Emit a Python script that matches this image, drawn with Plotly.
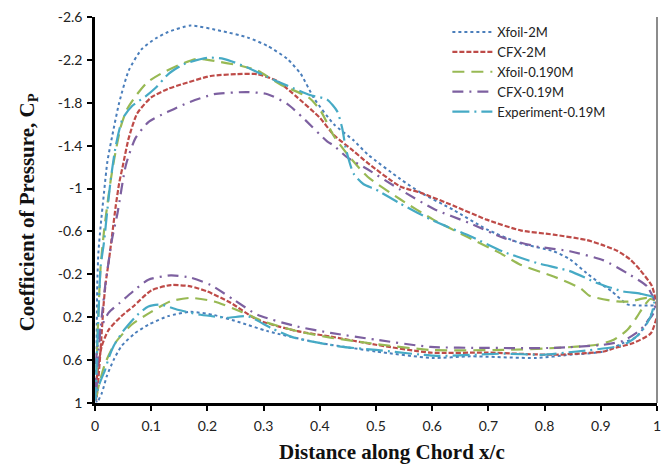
import plotly.graph_objects as go

# ---------------- data ----------------
series_names = ["Xfoil-2M", "CFX-2M", "Xfoil-0.190M", "CFX-0.19M", "Experiment-0.19M"]

# Xfoil-2M
xf2_x_up = [0.003, 0.003, 0.004, 0.006, 0.010, 0.016, 0.022, 0.031, 0.043, 0.060, 0.083, 0.108, 0.130, 0.170,
            0.224, 0.271, 0.307, 0.342, 0.366, 0.390, 0.425, 0.460, 0.485, 0.543, 0.580, 0.638, 0.697, 0.757,
            0.816, 0.845, 0.875, 0.900, 0.920, 0.947, 0.970, 0.994]
xf2_cp_up = [0.95, 0.40, -0.10, -0.40, -0.65, -0.96, -1.25, -1.50, -1.80, -2.10, -2.30, -2.40, -2.46, -2.52,
             -2.47, -2.41, -2.33, -2.21, -2.07, -1.84, -1.60, -1.45, -1.32, -1.09, -0.96, -0.80, -0.62, -0.49,
             -0.415, -0.34, -0.21, -0.11, -0.04, 0.08, 0.09, 0.09]
xf2_x_lo = [0.003, 0.012, 0.021, 0.033, 0.047, 0.071, 0.095, 0.130, 0.170, 0.212, 0.259, 0.307, 0.390, 0.500,
            0.600, 0.668, 0.786, 0.845, 0.905, 0.940, 0.964, 0.980, 0.994, 0.998]
xf2_cp_lo = [1.00, 0.91, 0.75, 0.60, 0.47, 0.35, 0.27, 0.19, 0.15, 0.18, 0.25, 0.33, 0.43, 0.52,
             0.58, 0.565, 0.58, 0.55, 0.52, 0.44, 0.38, 0.27, 0.13, 0.10]

# CFX-2M
cfx2_x_up = [0.004, 0.010, 0.015, 0.019, 0.025, 0.031, 0.037, 0.043, 0.049, 0.060, 0.075, 0.100, 0.130, 0.153,
             0.206, 0.253, 0.289, 0.325, 0.360, 0.400, 0.425, 0.460, 0.485, 0.543, 0.580, 0.638, 0.697, 0.757,
             0.816, 0.875, 0.905, 0.929, 0.952, 0.970, 0.991, 1.000]
cfx2_cp_up = [0.90, 0.50, 0.10, -0.12, -0.34, -0.59, -0.84, -1.05, -1.20, -1.47, -1.70, -1.85, -1.93, -1.97,
              -2.05, -2.067, -2.067, -2.00, -1.85, -1.66, -1.50, -1.35, -1.24, -1.02, -0.96, -0.84, -0.71, -0.61,
              -0.57, -0.52, -0.47, -0.42, -0.34, -0.24, -0.09, 0.10]
cfx2_x_lo = [0.002, 0.003, 0.012, 0.024, 0.047, 0.068, 0.100, 0.135, 0.170, 0.200, 0.242, 0.289, 0.360, 0.419,
             0.500, 0.597, 0.697, 0.816, 0.905, 0.923, 0.958, 0.989, 1.000]
cfx2_cp_lo = [0.97, 0.78, 0.47, 0.32, 0.19, 0.10, -0.05, -0.10, -0.088, -0.04, 0.067, 0.224, 0.33, 0.38,
              0.457, 0.53, 0.53, 0.55, 0.52, 0.49, 0.44, 0.35, 0.19]

# Xfoil-0.190M
xf019_x_up = [0.002, 0.005, 0.010, 0.016, 0.022, 0.028, 0.034, 0.046, 0.057, 0.072, 0.093, 0.117, 0.153, 0.182,
              0.224, 0.259, 0.289, 0.330, 0.380, 0.401, 0.425, 0.449, 0.485, 0.543, 0.602, 0.662, 0.720, 0.757,
              0.816, 0.864, 0.880, 0.929, 0.952, 0.982, 0.995]
xf019_cp_up = [0.90, 0.30, -0.27, -0.60, -0.85, -1.08, -1.27, -1.58, -1.74, -1.86, -1.99, -2.07, -2.16, -2.21,
               -2.18, -2.145, -2.10, -1.97, -1.85, -1.73, -1.49, -1.32, -1.11, -0.90, -0.71, -0.55, -0.40, -0.29,
               -0.18, -0.07, 0.00, 0.053, 0.053, 0.02, 0.04]
xf019_x_lo = [0.002, 0.006, 0.018, 0.036, 0.065, 0.100, 0.135, 0.170, 0.212, 0.259, 0.300, 0.360, 0.419, 0.500,
              0.597, 0.727, 0.822, 0.893, 0.923, 0.947, 0.964, 0.976, 0.988, 0.995]
xf019_cp_lo = [0.95, 0.85, 0.63, 0.44, 0.27, 0.15, 0.05, 0.02, 0.053, 0.146, 0.24, 0.33, 0.39, 0.45,
               0.505, 0.505, 0.486, 0.457, 0.41, 0.32, 0.20, 0.10, 0.03, 0.04]

# CFX-0.19M
cfx019_x_up = [0.002, 0.005, 0.010, 0.014, 0.018, 0.024, 0.030, 0.040, 0.055, 0.072, 0.095, 0.119, 0.140, 0.165,
               0.212, 0.271, 0.307, 0.342, 0.370, 0.413, 0.425, 0.449, 0.485, 0.543, 0.603, 0.665, 0.727, 0.786,
               0.845, 0.905, 0.947, 0.982, 0.997]
cfx019_cp_up = [0.95, 0.60, 0.30, 0.10, -0.09, -0.31, -0.52, -0.77, -1.22, -1.47, -1.62, -1.69, -1.74, -1.80,
                -1.88, -1.90, -1.88, -1.79, -1.66, -1.44, -1.40, -1.29, -1.18, -0.99, -0.81, -0.68, -0.54, -0.46,
                -0.415, -0.33, -0.21, -0.09, 0.07]
cfx019_x_lo = [0.001, 0.002, 0.006, 0.009, 0.024, 0.044, 0.072, 0.095, 0.135, 0.170, 0.206, 0.247, 0.289, 0.360,
               0.419, 0.500, 0.597, 0.697, 0.816, 0.905, 0.940, 0.970, 0.980, 0.994, 0.997]
cfx019_cp_lo = [0.90, 0.60, 0.40, 0.32, 0.16, 0.067, -0.06, -0.15, -0.19, -0.17, -0.10, 0.037, 0.177, 0.287,
                0.346, 0.41, 0.477, 0.486, 0.486, 0.457, 0.42, 0.32, 0.257, 0.16, 0.07]

# Experiment-0.19M
exp_x_up = [0.001, 0.003, 0.006, 0.010, 0.016, 0.022, 0.028, 0.037, 0.049, 0.066, 0.090, 0.108, 0.131, 0.158,
            0.200, 0.229, 0.271, 0.307, 0.342, 0.384, 0.413, 0.431, 0.440, 0.446, 0.460, 0.478, 0.500, 0.543,
            0.602, 0.668, 0.727, 0.786, 0.845, 0.893, 0.940, 0.970, 0.995]
exp_cp_up = [0.97, 0.60, 0.20, -0.27, -0.50, -0.80, -1.085, -1.40, -1.65, -1.77, -1.86, -1.94, -2.07, -2.16,
             -2.22, -2.21, -2.13, -2.04, -1.96, -1.87, -1.83, -1.72, -1.56, -1.38, -1.14, -1.04, -0.99, -0.86,
             -0.70, -0.555, -0.41, -0.306, -0.23, -0.12, -0.04, -0.02, 0.02]
exp_x_lo = [0.002, 0.006, 0.011, 0.018, 0.025, 0.033, 0.050, 0.075, 0.095, 0.117, 0.147, 0.188, 0.236, 0.271,
            0.313, 0.354, 0.437, 0.500, 0.609, 0.727, 0.798, 0.857, 0.928, 0.947, 0.970, 0.989, 0.995]
exp_cp_lo = [0.94, 0.85, 0.78, 0.69, 0.57, 0.47, 0.33, 0.18, 0.10, 0.083, 0.13, 0.177, 0.205, 0.19,
             0.30, 0.39, 0.474, 0.505, 0.56, 0.54, 0.55, 0.52, 0.474, 0.44, 0.35, 0.19, 0.02]

y_tick_vals = [-2.6, -2.2, -1.8, -1.4, -1.0, -0.6, -0.2, 0.2, 0.6, 1.0]
y_tick_text = ["-2.6", "-2.2", "-1.8", "-1.4", "-1", "-0.6", "-0.2", "0.2", "0.6", "1"]
x_tick_vals = [0, 0.1, 0.2, 0.3, 0.4, 0.5, 0.6, 0.7, 0.8, 0.9, 1.0]
x_tick_text = ["0", "0.1", "0.2", "0.3", "0.4", "0.5", "0.6", "0.7", "0.8", "0.9", "1"]

x_title = "<b>Distance along Chord x/c</b>"
y_title = "<b>Coefficient of Pressure, C<sub>P</sub></b>"

# ---------------- figure ----------------
styles = [
    dict(color="#4A7EBB", dash="dot", width=2),
    dict(color="#BE4B48", dash="5px,2px", width=2.2),
    dict(color="#98B954", dash="12px,7px", width=2.2),
    dict(color="#7D60A0", dash="11px,6px,2px,6px", width=2.2),
    dict(color="#46AAC5", dash="17px,5px,2px,5px", width=2.2),
]
data_sets = [
    (xf2_x_up, xf2_cp_up, xf2_x_lo, xf2_cp_lo),
    (cfx2_x_up, cfx2_cp_up, cfx2_x_lo, cfx2_cp_lo),
    (xf019_x_up, xf019_cp_up, xf019_x_lo, xf019_cp_lo),
    (cfx019_x_up, cfx019_cp_up, cfx019_x_lo, cfx019_cp_lo),
    (exp_x_up, exp_cp_up, exp_x_lo, exp_cp_lo),
]

fig = go.Figure()
for name, st, (xu, cu, xl, cl) in zip(series_names, styles, data_sets):
    xs = list(reversed(xu)) + list(xl)
    ys = list(reversed(cu)) + list(cl)
    fig.add_trace(go.Scatter(x=xs, y=ys, mode="lines", name=name,
                             line=dict(color=st["color"], dash=st["dash"], width=st["width"],
                                       shape="spline", smoothing=0.6)))

tick_font = dict(family="Lato, Open Sans, sans-serif", size=14, color="#222222")
title_font = dict(family="Liberation Serif, Times New Roman, serif", size=21, color="#111111")

fig.update_layout(
    width=670, height=464,
    margin=dict(l=95, r=13, t=17, b=61, autoexpand=False),
    paper_bgcolor="white", plot_bgcolor="white",
    showlegend=True,
    legend=dict(x=0.627, y=1.0, xanchor="left", yanchor="top",
                bgcolor="rgba(0,0,0,0)", borderwidth=0,
                font=dict(family="Lato, Open Sans, sans-serif", size=13, color="#222222"),
                tracegroupgap=0, itemwidth=40),
)
fig.update_xaxes(range=[0, 1], tickvals=x_tick_vals, ticktext=x_tick_text, automargin=False,
                 showgrid=False, zeroline=False, showline=True, linecolor="black", linewidth=2.5,
                 ticks="outside", ticklen=5, tickwidth=1.5, tickcolor="black",
                 tickfont=tick_font, ticklabelstandoff=3)
fig.update_yaxes(range=[1, -2.6], tickvals=y_tick_vals, ticktext=y_tick_text, automargin=False,
                 showgrid=False, zeroline=False, showline=True, linecolor="black", linewidth=2.5,
                 ticks="outside", ticklen=5, tickwidth=1.5, tickcolor="black",
                 tickfont=tick_font, ticklabelstandoff=2)
fig.add_shape(type="line", xref="paper", yref="paper", x0=1, x1=1, y0=0, y1=1,
              line=dict(color="#8C8C8C", width=2))

# axis titles as annotations for exact placement
fig.add_annotation(text=x_title, xref="paper", yref="paper", x=0.529, y=0,
                   xanchor="center", yanchor="middle", yshift=-49, showarrow=False, font=title_font)
fig.add_annotation(text=y_title, xref="paper", yref="paper", x=0, y=0.494, textangle=-90,
                   xanchor="center", yanchor="middle", xshift=-67, showarrow=False, font=title_font)

fig.write_html("out.html")
